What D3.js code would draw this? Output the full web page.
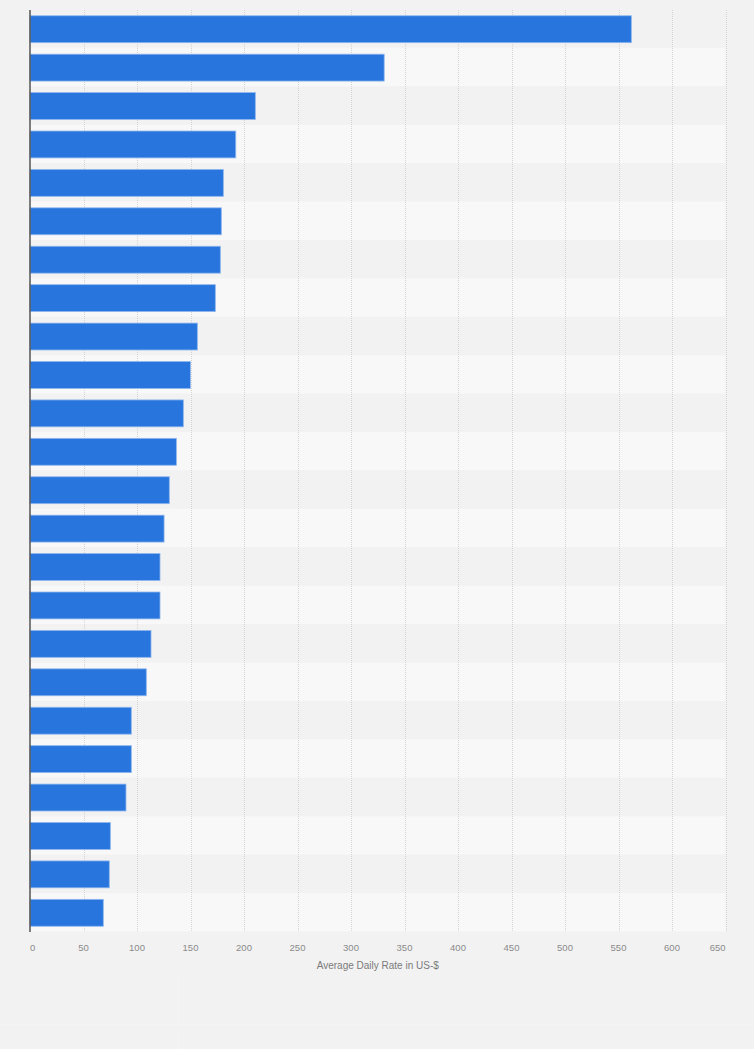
<!DOCTYPE html>
<html>
<head>
<meta charset="utf-8">
<script src="https://cdn.jsdelivr.net/npm/d3@7"></script>
<style>
  html, body { margin: 0; padding: 0; background: #f2f2f2; }
  svg { display: block; font-family: "Liberation Sans", Arial, sans-serif; }
</style>
</head>
<body>
<div id="chart"></div>
<script>
// valeurs (ADR en US-$), une barre par ligne, sans libellés
const rows = d3.range(1, 25);
const adr = [562, 331, 210.6, 192.3, 180.7, 178.8, 177.9, 173.2, 156.4, 149.9, 143.3, 136.8,
             130.2, 125.3, 121.5, 121.5, 113.1, 108.7, 94.7, 94.7, 89.7, 75.1, 74.1, 68.5];
const ticks = [0, 50, 100, 150, 200, 250, 300, 350, 400, 450, 500, 550, 600, 650];
const axisTitle = "Average Daily Rate in US-$";

const width = 754;
const height = 1049;
const margin = { top: 10, left: 30, right: 28.5, bottom: 117 };

const svg = d3.select("#chart")
  .append("svg")
  .attr("width", width)
  .attr("height", height);

// fond
svg.append("rect")
  .attr("width", width)
  .attr("height", height)
  .attr("fill", "#f2f2f2");

// petits panneaux discrets en bas
svg.append("line")
  .attr("x1", 0).attr("x2", width)
  .attr("y1", 1024.5).attr("y2", 1024.5)
  .attr("stroke", "#f4f4f4");
svg.append("line")
  .attr("x1", 178.5).attr("x2", 178.5)
  .attr("y1", 970).attr("y2", height)
  .attr("stroke", "#f4f4f4");

// échelles
const x = d3.scaleLinear()
  .domain([0, 650])
  .range([margin.left, width - margin.right]);

const y = d3.scaleBand()
  .domain(rows)
  .range([margin.top, height - margin.bottom])
  .paddingInner(0.3)
  .paddingOuter(0.15);

const step = y.step();

// bandes alternées
svg.append("g")
  .selectAll("rect")
  .data(rows)
  .join("rect")
  .attr("x", x(0))
  .attr("width", x(650) - x(0))
  .attr("y", d => y(d) - y.paddingInner() * step / 2 - 0.5)
  .attr("height", step)
  .attr("fill", (d, i) => i % 2 ? "#f8f8f8" : "#f2f2f2");

// grille verticale pointillée
svg.append("g")
  .selectAll("line")
  .data(ticks.slice(1))
  .join("line")
  .attr("x1", d => Math.round(x(d)) + 0.5)
  .attr("x2", d => Math.round(x(d)) + 0.5)
  .attr("y1", margin.top)
  .attr("y2", height - margin.bottom)
  .attr("stroke", "#d4d4d4")
  .attr("stroke-dasharray", "1,1");

// barres
svg.append("g")
  .selectAll("rect")
  .data(adr)
  .join("rect")
  .attr("x", x(0))
  .attr("y", (d, i) => y(rows[i]))
  .attr("width", d => x(d) - x(0))
  .attr("height", y.bandwidth())
  .attr("fill", "#2876dd")
  .attr("stroke", "#8fb6ee")
  .attr("stroke-width", 0.8);

// axe vertical
svg.append("line")
  .attr("x1", x(0)).attr("x2", x(0))
  .attr("y1", margin.top).attr("y2", height - margin.bottom)
  .attr("stroke", "#555")
  .attr("stroke-width", 1.5);

// libellés de l'axe horizontal
const last = ticks.length - 1;
svg.append("g")
  .selectAll("text")
  .data(ticks)
  .join("text")
  .attr("x", d => x(d))
  .attr("y", height - margin.bottom + 18.5)
  .attr("text-anchor", (d, i) => i === 0 ? "start" : i === last ? "end" : "middle")
  .attr("font-size", "9.5px")
  .attr("fill", "#8a8a8a")
  .text(d => d);

// titre de l'axe
svg.append("text")
  .attr("x", (x(0) + x(650)) / 2)
  .attr("y", height - margin.bottom + 37)
  .attr("text-anchor", "middle")
  .attr("font-size", "10px")
  .attr("fill", "#7a7a7a")
  .text(axisTitle);
</script>
</body>
</html>
